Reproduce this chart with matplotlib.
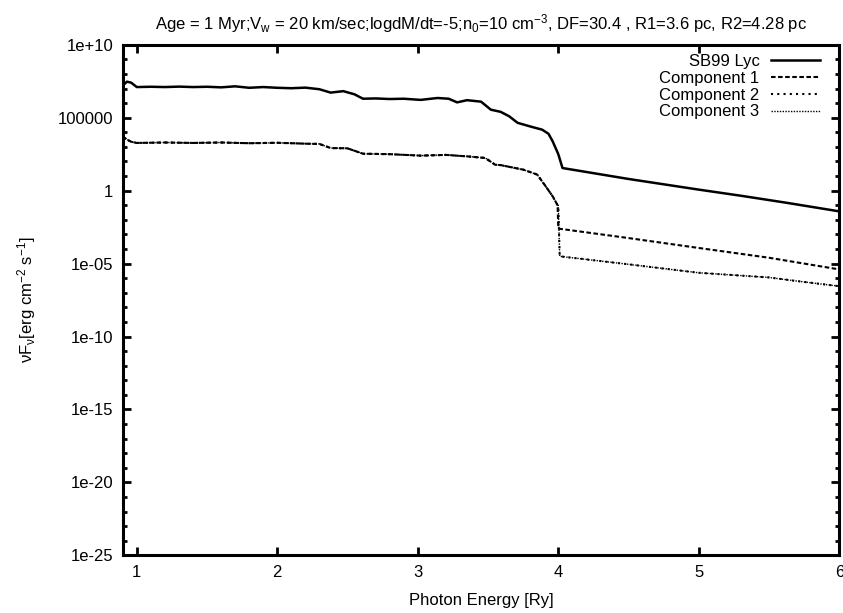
import numpy as np
import matplotlib
matplotlib.use("Agg")
import matplotlib.pyplot as plt
from matplotlib.ticker import FixedLocator, FixedFormatter, LogLocator, NullFormatter

plt.rcParams["font.family"] = ["Liberation Sans", "DejaVu Sans"]
plt.rcParams["mathtext.fontset"] = "custom"
plt.rcParams["mathtext.rm"] = "Liberation Sans"
plt.rcParams["mathtext.it"] = "Liberation Sans"
plt.rcParams["mathtext.default"] = "regular"

# SB99 Lyc spectrum (log10 of nuF_nu)
sb99_E = [0.9, 0.93, 0.96, 1.0, 1.1, 1.2, 1.3, 1.4, 1.5, 1.6, 1.7, 1.8, 1.9, 2.0,
          2.1, 2.2, 2.3, 2.38, 2.47, 2.55, 2.61, 2.7, 2.8, 2.9, 3.02, 3.14, 3.22,
          3.28, 3.35, 3.45, 3.52, 3.59, 3.65, 3.71, 3.8, 3.885, 3.93, 3.96, 4.0,
          4.03, 4.5, 5.0, 5.3, 5.63, 6.0]
sb99_logF = [7.2, 7.47, 7.4, 7.1, 7.12, 7.1, 7.13, 7.1, 7.12, 7.08, 7.15, 7.05, 7.1,
             7.05, 7.02, 7.06, 6.95, 6.72, 6.82, 6.6, 6.3, 6.32, 6.28, 6.3, 6.22, 6.35,
             6.3, 6.05, 6.2, 6.1, 5.55, 5.4, 5.1, 4.65, 4.4, 4.18, 3.9, 3.38, 2.5,
             1.55, 0.8, 0.07, -0.35, -0.84, -1.42]

# components: identical below 4 Ry
low_E = [0.9, 0.93, 0.96, 1.0, 1.2, 1.4, 1.6, 1.8, 2.0, 2.2, 2.3, 2.38, 2.5, 2.61,
         2.8, 3.02, 3.2, 3.35, 3.48, 3.55, 3.59, 3.75, 3.85, 3.91, 3.96, 3.995]
low_logF = [3.72, 3.5, 3.35, 3.27, 3.3, 3.27, 3.3, 3.25, 3.28, 3.22, 3.2, 2.92, 2.9,
            2.53, 2.5, 2.4, 2.45, 2.35, 2.24, 1.78, 1.75, 1.44, 1.1, 0.3, -0.39, -1.0]

c1_E = [4.0, 4.5, 5.0, 5.5, 6.0]
c1_logF = [-2.6, -3.25, -3.93, -4.6, -5.4]
c3_E = [4.0, 4.01, 4.5, 5.0, 5.5, 5.7, 6.0]
c3_logF = [-1.0, -4.5, -5.05, -5.63, -5.95, -6.2, -6.55]
c2_E = c3_E
c2_logF = c3_logF

labels = ["SB99 Lyc", "Component 1", "Component 2", "Component 3"]

fig = plt.figure(figsize=(8.43, 6.13), dpi=100)
ax = fig.add_axes([0.1456, 0.094, 0.85, 0.833])

ax.plot(sb99_E, 10.0 ** np.array(sb99_logF), color="black", lw=1.8, label=labels[0])
ax.plot(low_E + c1_E, 10.0 ** np.array(low_logF + c1_logF), color="black", lw=1.5,
        ls=(0, (2.2, 1.2)), label=labels[1])
ax.plot(low_E + c2_E, 10.0 ** np.array(low_logF + c2_logF), color="black", lw=1.5,
        ls=(0, (1, 2.0)), label=labels[2])
ax.plot(low_E + c3_E, 10.0 ** np.array(low_logF + c3_logF), color="black", lw=1.0,
        ls=(0, (1, 1)), label=labels[3])

ax.set_yscale("log")
ax.set_xlim(0.9, 6.0)
ax.set_ylim(1e-25, 1e10)

yt = [1e10, 1e5, 1, 1e-5, 1e-10, 1e-15, 1e-20, 1e-25]
ytl = ["1e+10", "100000", "1", "1e-05", "1e-10", "1e-15", "1e-20", "1e-25"]
ax.yaxis.set_major_locator(FixedLocator(yt))
ax.yaxis.set_major_formatter(FixedFormatter(ytl))
ax.yaxis.set_minor_locator(LogLocator(base=10, subs=(1.0,), numticks=50))
ax.yaxis.set_minor_formatter(NullFormatter())
ax.set_xticks([1, 2, 3, 4, 5, 6])

ax.tick_params(which="both", direction="in", top=True, right=True, width=2)
ax.tick_params(which="major", length=6, labelsize=12)
ax.tick_params(axis="y", pad=7)
ax.tick_params(axis="x", pad=7)
ax.tick_params(which="minor", length=3)
for sp in ax.spines.values():
    sp.set_linewidth(2.2)

ax.set_xlabel("Photon Energy [Ry]", fontsize=12, labelpad=9)
ax.set_ylabel(r"$\nu$F$_\nu$[erg cm$^{-2}$ s$^{-1}$]", fontsize=12, labelpad=14)
ax.set_title(r"Age = 1 Myr;V$_w$ = 20 km/sec;logdM/dt=-5;n$_0$=10 cm$^{-3}$, DF=30.4 , "
             r"R1=3.6 pc, R2=4.28 pc", fontsize=12, pad=11)

ax.legend(loc="upper right", bbox_to_anchor=(0.9735, 0.982), markerfirst=False,
          frameon=False, fontsize=12, handlelength=2.93, handletextpad=0.72,
          labelspacing=0.11, borderaxespad=0, borderpad=0)

fig.savefig("out.png", dpi=100)
